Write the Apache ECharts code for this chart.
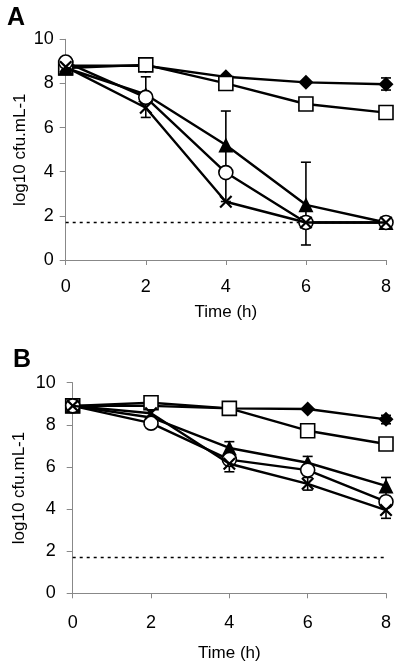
<!DOCTYPE html>
<html>
<head>
<meta charset="utf-8">
<script src="https://cdn.jsdelivr.net/npm/echarts@6/dist/echarts.min.js"></script>
<style>
html,body{margin:0;padding:0;background:#fff;}
#chart{width:400px;height:668px;}
</style>
</head>
<body>
<div id="chart"></div>
<script>
// ---- data ----
const times = [0, 2, 4, 6, 8];
const xTicks = [0, 2, 4, 6, 8];
const yTicks = [0, 2, 4, 6, 8, 10];
const detectionLimit = 1.7;

// Panel A
const diamondA  = [8.8, 8.8, 8.3, 8.05, 7.96];
const squareA   = [8.7, 8.84, 8.0, 7.07, 6.68];
const triangleA = [8.7, 7.5, 5.21, 2.5, 1.7];
const circleA   = [8.97, 7.37, 3.96, 1.7, 1.7];
const crossA    = [8.75, 6.9, 2.64, 1.7, 1.7];
// error bars [time, low, high]
const errA = [[2, 6.46, 8.3], [4, 2.65, 6.75], [6, 0.68, 4.43], [8, 7.7, 8.25]];

// Panel B
const diamondB  = [8.9, 8.9, 8.78, 8.75, 8.26];
const squareB   = [8.9, 9.05, 8.78, 7.72, 7.09];
const triangleB = [8.9, 8.35, 6.9, 6.2, 5.1];
const circleB   = [8.9, 8.08, 6.35, 5.85, 4.35];
const crossB    = [8.9, 8.55, 6.15, 5.2, 3.95];
const errB = [[4, 6.6, 7.2], [4, 5.77, 6.5], [6, 5.95, 6.5], [6, 4.9, 5.5], [8, 4.6, 5.5], [8, 3.56, 4.3], [8, 8.05, 8.45]];

// ---- chart ----
const FONT = '"Liberation Sans", Arial, sans-serif';
const crossPath = 'path://M0,1.2L1.2,0L5,3.8L8.8,0L10,1.2L6.2,5L10,8.8L8.8,10L5,6.2L1.2,10L0,8.8L3.8,5Z';

function pairs(vals) { return times.map((t, i) => [t, vals[i]]); }

function lineSeries(vals, idx, symbol, size, filled, z) {
  return {
    type: 'line', xAxisIndex: idx, yAxisIndex: idx, data: pairs(vals),
    symbol: symbol, symbolSize: size, showSymbol: true, z: z,
    lineStyle: { color: '#000', width: 2.4 },
    itemStyle: { color: filled ? '#000' : '#fff', borderColor: '#000', borderWidth: filled ? 0 : 1.6 },
    emphasis: { disabled: true }, animation: false
  };
}

function errSeries(data, idx) {
  return {
    type: 'custom', xAxisIndex: idx, yAxisIndex: idx, data: data, z: 1,
    encode: { x: 0, y: [1, 2] }, animation: false,
    renderItem: function (params, api) {
      const lo = api.coord([api.value(0), api.value(1)]);
      const hi = api.coord([api.value(0), api.value(2)]);
      const w = 5;
      const st = { stroke: '#000', lineWidth: 1.6 };
      return { type: 'group', children: [
        { type: 'line', shape: { x1: lo[0], y1: lo[1], x2: hi[0], y2: hi[1] }, style: st },
        { type: 'line', shape: { x1: lo[0] - w, y1: lo[1], x2: lo[0] + w, y2: lo[1] }, style: st },
        { type: 'line', shape: { x1: hi[0] - w, y1: hi[1], x2: hi[0] + w, y2: hi[1] }, style: st }
      ]};
    }
  };
}

function limitSeries(idx) {
  return {
    type: 'line', xAxisIndex: idx, yAxisIndex: idx, symbol: 'none', z: 0,
    data: [[xTicks[0], detectionLimit], [xTicks[xTicks.length - 1], detectionLimit]],
    lineStyle: { color: '#000', width: 1.5, type: [3, 4] }, animation: false
  };
}

function xAxis(idx, margin, gap) {
  return {
    type: 'value', gridIndex: idx, min: xTicks[0], max: xTicks[xTicks.length - 1], interval: 2,
    name: 'Time (h)', nameLocation: 'middle', nameGap: gap,
    nameTextStyle: { fontFamily: FONT, fontSize: 17, color: '#000' },
    axisLine: { lineStyle: { color: '#888', width: 1 } },
    axisTick: { show: true, length: 5, lineStyle: { color: '#888' } },
    axisLabel: { fontFamily: FONT, fontSize: 18, color: '#000', margin: margin },
    splitLine: { show: false }
  };
}
function yAxis(idx, margin, gap) {
  return {
    type: 'value', gridIndex: idx, min: yTicks[0], max: yTicks[yTicks.length - 1], interval: 2,
    name: 'log10 cfu.mL-1', nameLocation: 'middle', nameGap: gap, nameMoveOverlap: false,
    nameTextStyle: { fontFamily: FONT, fontSize: 17, color: '#000' },
    axisLine: { show: true, lineStyle: { color: '#888', width: 1 } },
    axisTick: { show: true, length: 6, lineStyle: { color: '#888' } },
    axisLabel: { fontFamily: FONT, fontSize: 18, color: '#000', margin: margin },
    splitLine: { show: false }
  };
}

const chart = echarts.init(document.getElementById('chart'), null, { renderer: 'canvas' });
chart.setOption({
  backgroundColor: '#fff',
  animation: false,
  title: [
    { text: 'A', left: 7, top: 6, padding: 0, textStyle: { fontFamily: FONT, fontSize: 25, fontWeight: 'bold', color: '#000' } },
    { text: 'B', left: 13, top: 348, padding: 0, textStyle: { fontFamily: FONT, fontSize: 25, fontWeight: 'bold', color: '#000' } }
  ],
  grid: [
    { left: 65.7, top: 39.3, width: 320.3, height: 220.7 },
    { left: 72.7, top: 382.7, width: 313.3, height: 210.6 }
  ],
  xAxis: [xAxis(0, 18, 44), xAxis(1, 21, 52)],
  yAxis: [yAxis(0, 12, 37), yAxis(1, 17, 45)],
  series: [
    limitSeries(0),
    errSeries(errA, 0),
    lineSeries(diamondA, 0, 'diamond', 15, true, 2),
    lineSeries(squareA, 0, 'rect', 14, false, 3),
    lineSeries(triangleA, 0, 'triangle', 15, true, 4),
    lineSeries(circleA, 0, 'circle', 14, false, 5),
    lineSeries(crossA, 0, crossPath, 13, true, 6),
    limitSeries(1),
    errSeries(errB, 1),
    lineSeries(diamondB, 1, 'diamond', 15, true, 2),
    lineSeries(squareB, 1, 'rect', 14, false, 3),
    lineSeries(triangleB, 1, 'triangle', 15, true, 4),
    lineSeries(circleB, 1, 'circle', 14, false, 5),
    lineSeries(crossB, 1, crossPath, 13, true, 6)
  ]
});
</script>
</body>
</html>
